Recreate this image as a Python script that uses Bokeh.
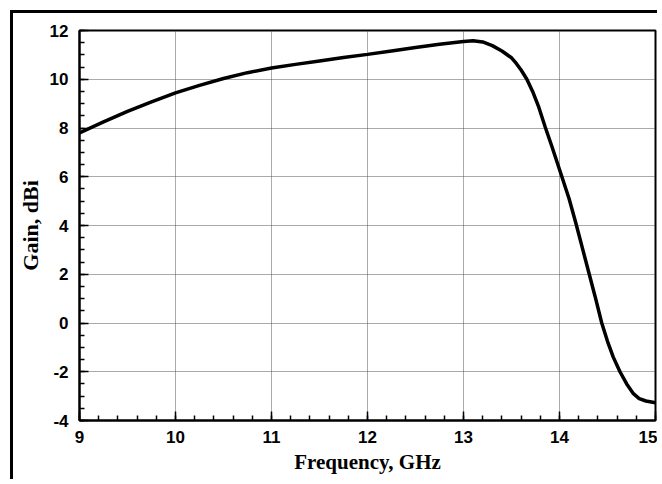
from bokeh.plotting import figure
from bokeh.models import SingleIntervalTicker, Range1d, CustomJSTickFormatter
from bokeh.embed import file_html
from bokeh.resources import INLINE

freq = [9.0, 9.25, 9.5, 9.75, 10.0, 10.25, 10.5, 10.75, 11.0, 11.25, 11.5, 11.75,
        12.0, 12.25, 12.5, 12.75, 13.0, 13.1, 13.2, 13.3, 13.4, 13.5, 13.55, 13.6,
        13.66, 13.72, 13.78, 13.85, 13.92, 14.0, 14.1, 14.17, 14.24, 14.31, 14.37,
        14.44, 14.5, 14.56, 14.63, 14.7, 14.77, 14.83, 14.9, 15.0]
gain = [7.8, 8.25, 8.68, 9.07, 9.44, 9.75, 10.03, 10.27, 10.46, 10.61, 10.75, 10.89,
        11.02, 11.16, 11.3, 11.44, 11.55, 11.58, 11.53, 11.38, 11.16, 10.88, 10.65, 10.38,
        10.0, 9.5, 8.9, 8.05, 7.25, 6.3, 5.1, 4.1, 3.05, 2.0, 1.1,
        0.0, -0.75, -1.4, -2.0, -2.5, -2.9, -3.1, -3.2, -3.27]

x_ticks_major = 1
y_ticks_major = 2

p = figure(width=647, height=469, output_backend="svg", toolbar_location=None,
           x_range=Range1d(9, 15), y_range=Range1d(-4, 12),
           min_border_left=66, min_border_right=5, min_border_top=17, min_border_bottom=62)
p.styles = {"margin-left": "10px", "margin-top": "10px",
            "border-left": "3px solid black", "border-top": "3px solid black"}

p.background_fill_color = "white"
p.border_fill_color = "white"
p.outline_line_color = "black"
p.outline_line_width = 2

p.line(freq, gain, line_color="black", line_width=3.5)

p.xaxis.ticker = SingleIntervalTicker(interval=x_ticks_major, num_minor_ticks=5)
p.yaxis.ticker = SingleIntervalTicker(interval=y_ticks_major, num_minor_ticks=4)

for ax in (p.xaxis, p.yaxis):
    ax.formatter = CustomJSTickFormatter(code="return tick.toFixed(0);")
    ax.axis_line_color = "black"
    ax.axis_line_width = 2
    ax.major_tick_in = 9
    ax.major_tick_out = 0
    ax.minor_tick_in = 5
    ax.minor_tick_out = 0
    ax.major_tick_line_color = "black"
    ax.minor_tick_line_color = "black"
    ax.major_tick_line_width = 1.5
    ax.minor_tick_line_width = 1.5
    ax.major_label_text_font = "Liberation Sans"
    ax.major_label_text_font_style = "bold"
    ax.major_label_text_font_size = "17px"
    ax.major_label_text_color = "black"
    ax.axis_label_text_font = "Liberation Serif"
    ax.axis_label_text_font_style = "bold"
    ax.axis_label_text_color = "black"

p.xaxis.axis_label = "Frequency, GHz"
p.yaxis.axis_label = "Gain, dBi"
p.xaxis.axis_label_text_font_size = "21px"
p.yaxis.axis_label_text_font_size = "22px"
p.xaxis.major_label_standoff = 10
p.yaxis.major_label_standoff = 11
p.xaxis.axis_label_standoff = 4
p.yaxis.axis_label_standoff = 4

for g in (p.xgrid, p.ygrid):
    g.grid_line_color = "#555555"
    g.grid_line_dash = "1 1"
    g.grid_line_width = 1

open("out.html", "w").write(file_html(p, INLINE))
